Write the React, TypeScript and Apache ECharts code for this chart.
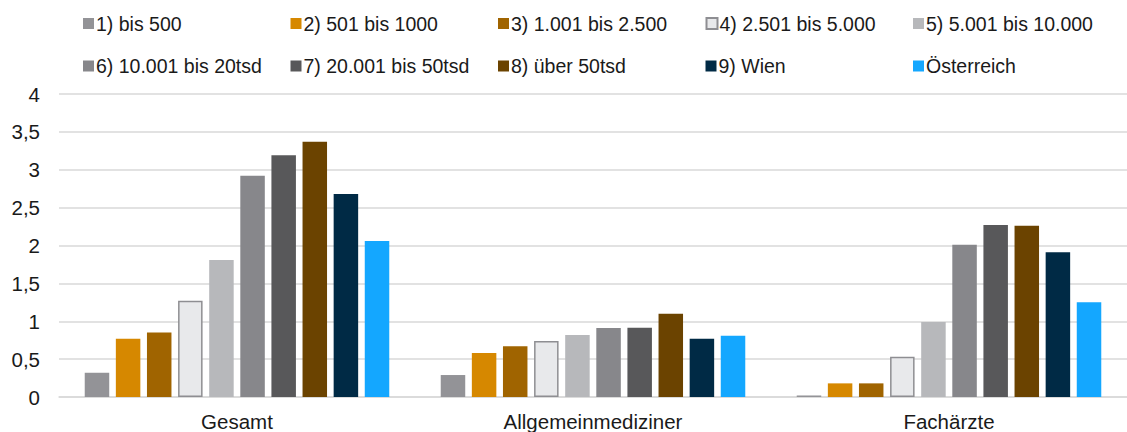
import React, { useEffect, useRef } from "react";
import * as echarts from "echarts";

const categories = ["Gesamt", "Allgemeinmediziner", "Fachärzte"];
const seriesNames = [
  "1) bis 500",
  "2) 501 bis 1000",
  "3) 1.001 bis 2.500",
  "4) 2.501 bis 5.000",
  "5) 5.001 bis 10.000",
  "6) 10.001 bis 20tsd",
  "7) 20.001 bis 50tsd",
  "8) über 50tsd",
  "9) Wien",
  "Österreich",
];
const s1 = [0.32, 0.29, 0.02];
const s2 = [0.77, 0.58, 0.18];
const s3 = [0.85, 0.67, 0.18];
const s4 = [1.27, 0.74, 0.53];
const s5 = [1.81, 0.82, 0.99];
const s6 = [2.92, 0.91, 2.01];
const s7 = [3.19, 0.915, 2.27];
const s8 = [3.37, 1.1, 2.26];
const s9 = [2.68, 0.77, 1.91];
const s10 = [2.06, 0.81, 1.25];
const seriesValues = [s1, s2, s3, s4, s5, s6, s7, s8, s9, s10];
const colors = [
  "#939397",
  "#D68800",
  "#A06400",
  "#E8E9EB",
  "#B7B8BB",
  "#87878B",
  "#58585A",
  "#6B4300",
  "#002A45",
  "#14A7FF",
];
const yTicks = { min: 0, max: 4, interval: 0.5 };

const legendLeft = [83, 290.5, 498, 705.5, 913];
const legendTop = [13.5, 56];

export default function App() {
  const ref = useRef<HTMLDivElement>(null);
  useEffect(() => {
    document.body.style.margin = "0";
    const chart = echarts.init(ref.current!, null, { renderer: "svg" });
    const font = "'Liberation Sans', Arial, sans-serif";
    const legends = seriesNames.map((n, i) => ({
      data: [n],
      left: legendLeft[i % 5],
      top: legendTop[Math.floor(i / 5)],
      padding: 0,
      itemWidth: 11,
      itemHeight: 11,
      icon: "rect",
      selectedMode: false,
      textStyle: {
        fontFamily: font,
        fontSize: 19.5,
        lineHeight: 20,
        color: "#1a1a1a",
        padding: [0, 0, 0, -3],
      },
    }));
    chart.setOption({
      animation: false,
      textStyle: { fontFamily: font },
      legend: legends,
      grid: { left: 59, right: 0, top: 94, bottom: 35, containLabel: false },
      xAxis: {
        type: "category",
        data: categories,
        axisLine: { lineStyle: { color: "#D9D9D9", width: 1.5 } },
        axisTick: { show: false },
        axisLabel: { fontSize: 20.5, color: "#1a1a1a", margin: 14, fontFamily: font },
      },
      yAxis: {
        type: "value",
        min: yTicks.min,
        max: yTicks.max,
        interval: yTicks.interval,
        axisLine: { show: false },
        axisTick: { show: false },
        splitLine: { lineStyle: { color: "#D9D9D9", width: 1.5 } },
        axisLabel: {
          fontSize: 20.5,
          color: "#1a1a1a",
          margin: 19,
          fontFamily: font,
          formatter: (v: number) => String(v).replace(".", ","),
        },
      },
      series: seriesNames.map((n, i) => ({
        name: n,
        type: "bar",
        data: seriesValues[i],
        barWidth: 24.5,
        barGap: "27%",
        itemStyle:
          i === 3
            ? { color: colors[i], borderColor: "#8E8E92", borderWidth: 1.5 }
            : { color: colors[i] },
      })),
    });
    return () => chart.dispose();
  }, []);
  return <div ref={ref} style={{ width: 1127, height: 432 }} />;
}
